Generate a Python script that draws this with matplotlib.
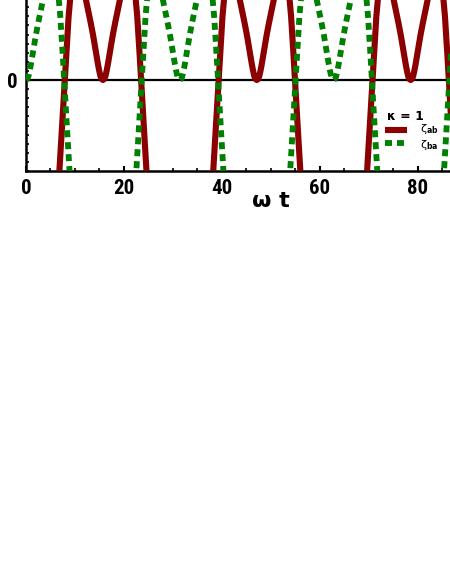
import matplotlib
matplotlib.use("Agg")
import matplotlib.pyplot as plt
from matplotlib.ticker import MultipleLocator, FixedLocator
from matplotlib.lines import Line2D

# ---------------- data ----------------
t_ab = [0.0, 1.7, 3.7, 4.7, 5.7, 6.2, 6.7, 7.2, 7.7, 8.2, 8.7, 9.2, 9.7, 10.2, 10.7,
        11.2, 11.7, 12.2, 12.7, 13.2, 13.7, 14.2, 14.7, 14.95, 15.2, 15.45, 15.7,
        15.95, 16.2, 16.45, 16.7, 17.2,
        17.7, 18.2, 18.7, 19.2, 19.7, 20.2, 20.7, 21.2, 21.7, 22.2, 22.7, 23.2, 23.7,
        24.2, 24.7, 25.2, 25.7, 26.7, 27.7, 28.7, 29.7, 31.4, 33.1, 34.1, 35.1, 36.1,
        37.1, 37.6, 38.1, 38.6, 39.1, 39.6, 40.1, 40.6, 41.1, 41.6, 42.1, 42.6, 43.1,
        43.6, 44.1, 44.6, 45.1, 45.6, 46.1, 46.35, 46.6, 46.85, 47.1, 47.35, 47.6,
        47.85, 48.1, 48.6, 49.1, 49.6,
        50.1, 50.6, 51.1, 51.6, 52.1, 52.6, 53.1, 53.6, 54.1, 54.6, 55.1, 55.6, 56.1,
        56.6, 57.1, 58.1, 59.1, 60.1, 61.1, 62.8, 64.5, 65.5, 66.5, 67.5, 68.5, 69.0,
        69.5, 70.0, 70.5, 71.0, 71.5, 72.0, 72.5, 73.0, 73.5, 74.0, 74.5, 75.0, 75.5,
        76.0, 76.5, 77.0, 77.5, 77.75, 78.0, 78.25, 78.5, 78.75, 79.0, 79.25, 79.5,
        80.0, 80.5, 81.0, 81.5, 82.0,
        82.5, 83.0, 83.5, 84.0, 84.5, 85.0, 85.5, 86.0, 86.5, 87.0, 87.5, 88.0, 88.5]
zeta_ab = [-5.0, -4.8, -3.8, -3.0, -2.1, -1.6, -1.10, -0.65, -0.20, 0.27, 0.70, 1.00,
           1.06, 1.12, 1.13, 1.09, 1.00, 0.89, 0.76, 0.63, 0.49, 0.33, 0.17, 0.10,
           0.04, 0.01, 0.00, 0.01, 0.04, 0.10, 0.17, 0.33,
           0.49, 0.63, 0.76, 0.89, 1.00, 1.09, 1.13, 1.12, 1.06, 1.00,
           0.70, 0.27, -0.20, -0.65, -1.10, -1.6, -2.1, -3.0, -3.8, -4.4, -4.8, -5.0,
           -4.8, -4.4, -3.8, -3.0, -2.1, -1.6, -1.10, -0.65, -0.20, 0.27, 0.70, 1.00,
           1.06, 1.12, 1.13, 1.09, 1.00, 0.89, 0.76, 0.63, 0.49, 0.33, 0.17, 0.10,
           0.04, 0.01, 0.00, 0.01, 0.04, 0.10, 0.17, 0.33, 0.49, 0.63,
           0.76, 0.89, 1.00, 1.09, 1.13, 1.12, 1.06, 1.00,
           0.70, 0.27, -0.20, -0.65, -1.10, -1.6, -2.1, -3.0, -3.8, -4.4, -4.8, -5.0,
           -4.8, -4.4, -3.8, -3.0, -2.1, -1.6, -1.10, -0.65, -0.20, 0.27, 0.70, 1.00,
           1.06, 1.12, 1.13, 1.09, 1.00, 0.89, 0.76, 0.63, 0.49, 0.33, 0.17, 0.10,
           0.04, 0.01, 0.00, 0.01, 0.04, 0.10, 0.17, 0.33, 0.49, 0.63,
           0.76, 0.89, 1.00, 1.09, 1.13, 1.12, 1.06, 1.00,
           0.70, 0.27, -0.20, -0.65, -1.10, -1.6, -2.1]

t_ba = [0.0, 0.25, 0.5, 0.75, 1.0, 1.5, 2.0, 2.5, 3.0, 3.5, 4.0, 4.5, 5.0, 5.5, 6.0,
        6.5, 7.0, 7.5,
        8.0, 8.5, 9.0, 9.5, 10.0, 11.0, 12.0, 13.0, 14.0, 15.7, 17.4, 18.4, 19.4, 20.4,
        21.4, 21.9, 22.4, 22.9, 23.4, 23.9, 24.4, 24.9, 25.4, 25.9, 26.4, 26.9, 27.4,
        27.9, 28.4, 28.9, 29.4, 29.9, 30.4, 30.65, 30.9, 31.15, 31.4, 31.65, 31.9,
        32.15, 32.4, 32.9, 33.4, 33.9,
        34.4, 34.9, 35.4, 35.9, 36.4, 36.9, 37.4, 37.9, 38.4, 38.9, 39.4, 39.9, 40.4,
        40.9, 41.4, 42.4, 43.4, 44.4, 45.4, 47.1, 48.8, 49.8, 50.8, 51.8, 52.8, 53.3,
        53.8, 54.3, 54.8, 55.3, 55.8, 56.3, 56.8, 57.3, 57.8, 58.3, 58.8, 59.3, 59.8,
        60.3, 60.8, 61.3, 61.8, 62.05, 62.3, 62.55, 62.8, 63.05, 63.3, 63.55, 63.8,
        64.3, 64.8, 65.3, 65.8, 66.3,
        66.8, 67.3, 67.8, 68.3, 68.8, 69.3, 69.8, 70.3, 70.8, 71.3, 71.8, 72.3, 72.8,
        73.8, 74.8, 75.8, 76.8, 78.5, 80.2, 81.2, 82.2, 83.2, 84.2, 84.7, 85.2, 85.7,
        86.2, 86.7, 87.2, 87.7, 88.2]
zeta_ba = [0.00, 0.01, 0.04, 0.10, 0.17, 0.33, 0.49, 0.63, 0.76, 0.89, 1.00, 1.09,
           1.13, 1.12, 1.06,
           1.00, 0.70, 0.27, -0.20, -0.65, -1.10, -1.6, -2.1, -3.0, -3.8, -4.4, -4.8,
           -5.0, -4.8, -4.4, -3.8, -3.0, -2.1, -1.6, -1.10, -0.65, -0.20, 0.27, 0.70,
           1.00, 1.06, 1.12, 1.13, 1.09, 1.00, 0.89, 0.76, 0.63, 0.49, 0.33, 0.17, 0.10,
           0.04, 0.01, 0.00, 0.01, 0.04, 0.10, 0.17, 0.33, 0.49, 0.63, 0.76, 0.89, 1.00,
           1.09, 1.13, 1.12, 1.06,
           1.00, 0.70, 0.27, -0.20, -0.65, -1.10, -1.6, -2.1, -3.0, -3.8, -4.4, -4.8,
           -5.0, -4.8, -4.4, -3.8, -3.0, -2.1, -1.6, -1.10, -0.65, -0.20, 0.27, 0.70,
           1.00, 1.06, 1.12, 1.13, 1.09, 1.00, 0.89, 0.76, 0.63, 0.49, 0.33, 0.17, 0.10,
           0.04, 0.01, 0.00, 0.01, 0.04, 0.10, 0.17, 0.33, 0.49, 0.63, 0.76, 0.89, 1.00,
           1.09, 1.13, 1.12, 1.06,
           1.00, 0.70, 0.27, -0.20, -0.65, -1.10, -1.6, -2.1, -3.0, -3.8, -4.4, -4.8,
           -5.0, -4.8, -4.4, -3.8, -3.0, -2.1, -1.6, -1.10, -0.65, -0.20, 0.27, 0.70,
           1.00, 1.06]

x_ticks = [0, 20, 40, 60, 80]
x_ticklabels = ["0", "20", "40", "60", "80"]
y_ticks = [0]
y_ticklabels = ["0"]
series_labels = [r"ζ$_{\mathbf{ab}}$", r"ζ$_{\mathbf{ba}}$"]
legend_title = "κ = 1"
x_label = "ω t"

# ---------------- figure ----------------
W, H = 450, 582
fig = plt.figure(figsize=(W / 100, H / 100), dpi=100)
ax = fig.add_axes([26 / W, (H - 171) / H, 490 / W, 182 / H])

red = "#8b0000"
green = "#008000"
styles = [dict(color=red, lw=4.4, solid_capstyle="butt"),
          dict(color=green, lw=4.2, ls=(0, (1.2, 0.85)))]

ax.axhline(0, color="black", lw=1.6, zorder=1.5)
ax.plot(t_ab, zeta_ab, zorder=3, label=series_labels[0], **styles[0])
ax.plot(t_ba, zeta_ba, zorder=3, label=series_labels[1], **styles[1])

ax.set_xlim(0, 100)
ax.set_ylim(-1, 1)

tick_font = ["Roboto Condensed", "DejaVu Sans"]
ax.xaxis.set_major_locator(FixedLocator(x_ticks))
ax.set_xticklabels(x_ticklabels, family=tick_font, weight="bold", fontsize=15,
                   stretch="condensed")
ax.xaxis.set_minor_locator(MultipleLocator(5))
ax.yaxis.set_major_locator(FixedLocator(y_ticks))
ax.set_yticklabels(y_ticklabels, family=tick_font, weight="bold", fontsize=15,
                   stretch="condensed")
ax.yaxis.set_minor_locator(MultipleLocator(0.1))

ax.tick_params(axis="x", which="major", direction="in", length=3.5, width=1.5,
               pad=6, top=False)
ax.tick_params(axis="y", which="major", direction="in", length=3.5, width=1.5,
               pad=6, right=False)
ax.tick_params(axis="both", which="minor", direction="in", length=2, width=1.2,
               top=False, right=False)
for s in ax.spines.values():
    s.set_linewidth(1.8)

ax.set_xlabel(x_label, fontsize=16, weight="bold", labelpad=-5)

# legend (title + two entries), placed in figure pixel coordinates
def fx(px):
    return px / W


def fy(py):
    return 1 - py / H


fig.text(fx(405), fy(116), legend_title, ha="center", va="center",
         fontsize=9, weight="bold")
for (yp, ylab, lab, st) in zip([130, 143], [129.5, 145.5], series_labels, styles):
    fig.add_artist(Line2D([fx(385), fx(407)], [fy(yp), fy(yp)],
                          transform=fig.transFigure, **st))
    fig.text(fx(420), fy(ylab), lab, ha="left", va="center", fontsize=8)

fig.savefig("out.png", dpi=100)
